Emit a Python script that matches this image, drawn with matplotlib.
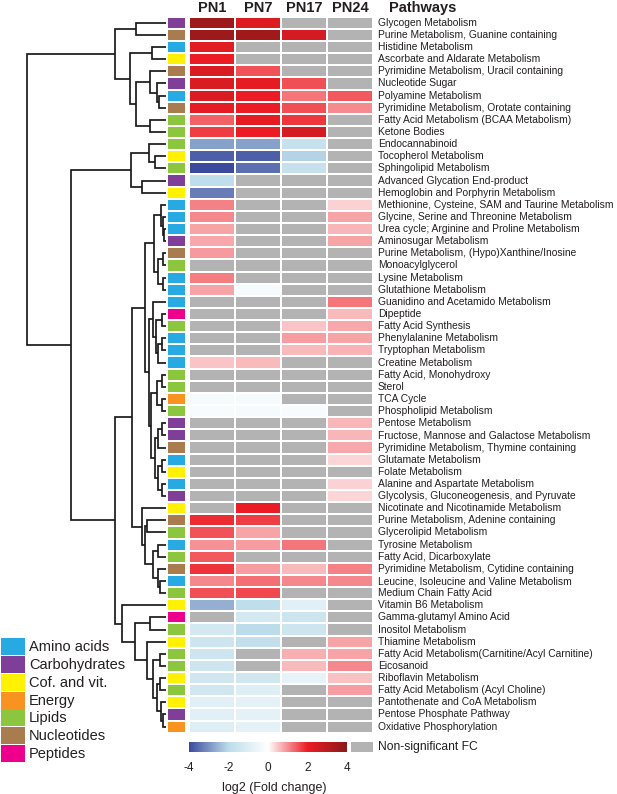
import numpy as np
import matplotlib
matplotlib.use("Agg")
import matplotlib.pyplot as plt
from matplotlib.colors import LinearSegmentedColormap, ListedColormap
from matplotlib.cm import ScalarMappable
from matplotlib.colors import Normalize

plt.rcParams['font.family'] = ['Liberation Sans', 'DejaVu Sans']

nan = np.nan

pathways = [
    "Glycogen Metabolism", "Purine Metabolism, Guanine containing", "Histidine Metabolism",
    "Ascorbate and Aldarate Metabolism", "Pyrimidine Metabolism, Uracil containing", "Nucleotide Sugar",
    "Polyamine Metabolism", "Pyrimidine Metabolism, Orotate containing", "Fatty Acid Metabolism (BCAA Metabolism)",
    "Ketone Bodies", "Endocannabinoid", "Tocopherol Metabolism", "Sphingolipid Metabolism",
    "Advanced Glycation End-product", "Hemoglobin and Porphyrin Metabolism",
    "Methionine, Cysteine, SAM and Taurine Metabolism", "Glycine, Serine and Threonine Metabolism",
    "Urea cycle; Arginine and Proline Metabolism", "Aminosugar Metabolism",
    "Purine Metabolism, (Hypo)Xanthine/Inosine", "Monoacylglycerol", "Lysine Metabolism",
    "Glutathione Metabolism", "Guanidino and Acetamido Metabolism", "Dipeptide", "Fatty Acid Synthesis",
    "Phenylalanine Metabolism", "Tryptophan Metabolism", "Creatine Metabolism", "Fatty Acid, Monohydroxy",
    "Sterol", "TCA Cycle", "Phospholipid Metabolism", "Pentose Metabolism",
    "Fructose, Mannose and Galactose Metabolism", "Pyrimidine Metabolism, Thymine containing",
    "Glutamate Metabolism", "Folate Metabolism", "Alanine and Aspartate Metabolism",
    "Glycolysis, Gluconeogenesis, and Pyruvate", "Nicotinate and Nicotinamide Metabolism",
    "Purine Metabolism, Adenine containing", "Glycerolipid Metabolism", "Tyrosine Metabolism",
    "Fatty Acid, Dicarboxylate", "Pyrimidine Metabolism, Cytidine containing",
    "Leucine, Isoleucine and Valine Metabolism", "Medium Chain Fatty Acid", "Vitamin B6 Metabolism",
    "Gamma-glutamyl Amino Acid", "Inositol Metabolism", "Thiamine Metabolism",
    "Fatty Acid Metabolism(Carnitine/Acyl Carnitine)", "Eicosanoid", "Riboflavin Metabolism",
    "Fatty Acid Metabolism (Acyl Choline)", "Pantothenate and CoA Metabolism",
    "Pentose Phosphate Pathway", "Oxidative Phosphorylation",
]

# AA amino acids, CH carbohydrates, CV cofactors/vitamins, EN energy, LI lipids, NU nucleotides, PE peptides
category = [
    "CH", "NU", "AA", "CV", "NU", "CH", "AA", "NU", "LI", "LI",
    "LI", "CV", "LI", "CH", "CV", "AA", "AA", "AA", "CH", "NU",
    "LI", "AA", "AA", "AA", "PE", "LI", "AA", "AA", "AA", "LI",
    "LI", "EN", "LI", "CH", "CH", "NU", "AA", "CV", "AA", "CH",
    "CV", "NU", "LI", "AA", "LI", "NU", "AA", "LI", "CV", "PE",
    "LI", "CV", "LI", "LI", "CV", "LI", "CV", "CH", "EN",
]

timepoints = ["PN1", "PN7", "PN17", "PN24"]

pn1 = [3.6, 3.65, 2.2, 2.0, 2.4, 2.4, 2.35, 2.15, 1.4, 1.7,
       -2.8, -3.7, -4.0, -1.9, -3.3, 1.1, 1.05, 0.8, 0.75, 0.9,
       nan, 1.15, 0.8, nan, nan, nan, nan, nan, 0.5, nan,
       nan, -0.3, -0.25, nan, nan, nan, nan, nan, nan, nan,
       nan, 1.85, 1.5, 0.95, 1.45, 1.8, 1.05, 1.55, -2.6, nan,
       -1.3, -1.5, -1.5, -1.45, -1.4, -1.4, -0.9, -0.9, -1.0]
pn7 = [2.3, 3.55, nan, nan, 1.5, 2.1, 2.0, 2.0, 2.1, 2.0,
       -2.8, -3.7, -3.5, nan, nan, nan, nan, nan, nan, nan,
       nan, nan, -0.3, nan, nan, nan, nan, nan, 0.6, nan,
       nan, -0.3, -0.3, nan, nan, nan, nan, nan, nan, nan,
       2.0, 1.7, 0.8, 0.85, nan, 0.85, 1.25, 1.6, -1.9, -1.3,
       -2.0, -1.8, nan, nan, -1.4, -1.0, -0.8, -0.8, -0.8]
pn17 = [nan, 2.5, nan, nan, nan, 1.55, 1.2, 1.55, 1.75, 2.5,
        -1.7, -2.1, -1.7, nan, nan, nan, nan, nan, nan, nan,
        nan, nan, nan, nan, nan, 0.5, 0.85, 0.62, nan, nan,
        nan, nan, -0.2, nan, nan, nan, nan, nan, nan, nan,
        nan, nan, nan, 1.2, nan, 0.62, 1.05, nan, -0.9, -1.5,
        -1.5, nan, 0.7, 0.6, -0.7, nan, nan, nan, nan]
pn24 = [nan, nan, nan, nan, nan, nan, 1.45, 1.0, nan, nan,
        nan, nan, nan, nan, nan, 0.4, 0.8, 0.65, 0.8, nan,
        nan, nan, nan, 1.2, 0.6, 0.75, 0.8, 0.67, nan, nan,
        nan, nan, nan, 0.65, 0.65, 0.75, 0.35, nan, 0.38, 0.35,
        nan, nan, nan, nan, nan, 1.1, 1.05, nan, nan, nan,
        nan, 0.8, 0.8, 1.05, 0.55, 0.85, nan, nan, nan]

class_keys = ["AA", "CH", "CV", "EN", "LI", "NU", "PE"]
class_names = ["Amino acids", "Carbohydrates", "Cof. and vit.", "Energy", "Lipids", "Nucleotides", "Peptides"]
class_colors = ["#27AAE1", "#7F3F98", "#FFF100", "#F7931E", "#8CC63F", "#A97C50", "#EC008C"]

# row clustering: (a, b, height); ids >= 59 refer to earlier merges (59 + index)
linkage = [
    (0, 1, 30), (2, 3, 14), (6, 7, 7), (5, 61, 9), (4, 62, 16),
    (8, 9, 16), (63, 64, 30), (60, 65, 36), (59, 66, 51),
    (11, 12, 11), (10, 68, 17), (13, 14, 24), (69, 70, 35),
    (17, 18, 2), (16, 72, 3), (15, 73, 5), (19, 20, 3), (21, 22, 3),
    (75, 76, 8), (74, 77, 12),
    (24, 25, 4), (26, 27, 4), (80, 28, 8), (79, 81, 10), (23, 82, 13),
    (29, 30, 4), (31, 32, 4), (84, 85, 9), (33, 34, 4), (87, 35, 8),
    (36, 37, 4), (38, 39, 4), (89, 90, 8), (88, 91, 11), (86, 92, 15),
    (83, 93, 17), (78, 94, 21),
    (41, 42, 19), (43, 44, 8), (46, 47, 6), (45, 98, 8), (97, 99, 13),
    (96, 100, 21), (40, 101, 24), (95, 102, 34),
    (49, 50, 16), (52, 53, 6), (54, 55, 6), (57, 58, 3), (56, 107, 5),
    (106, 108, 9), (105, 109, 13), (51, 110, 19), (104, 111, 31),
    (48, 112, 44), (103, 113, 51), (71, 114, 95), (67, 115, 139),
]

W, H = 617, 794
fig = plt.figure(figsize=(W / 100, H / 100), dpi=100)


def px_axes(x0, y0, x1, y1):
    return fig.add_axes([x0 / W, 1 - y1 / H, (x1 - x0) / W, (y1 - y0) / H])


n = len(pathways)
top, bottom = 16.7, 732.7
txt = '#231f20'

# heatmap
ax_h = px_axes(189, top, 373, bottom)
data = np.ma.masked_invalid(np.array([pn1, pn7, pn17, pn24]).T)
cmap = LinearSegmentedColormap.from_list(
    'fc', [(0, '#3B4A9E'), (0.25, '#BCDCEA'), (0.5, '#FFFFFF'), (0.75, '#EC1C24'), (1, '#8B1A1A')])
cmap.set_bad('#B3B3B3')
ax_h.pcolormesh(np.arange(5), np.arange(n + 1), data, cmap=cmap, vmin=-4, vmax=4,
                edgecolors='white', linewidth=1.2)
ax_h.set_xlim(0, 4)
ax_h.set_ylim(n, 0)
ax_h.axis('off')
for j, t in enumerate(timepoints):
    ax_h.text(j + 0.5, -0.75, t, ha='center', va='center', fontsize=10.5, fontweight='bold', color=txt)
ax_h.text(4.35, -0.75, "Pathways", ha='left', va='center', fontsize=10.5, fontweight='bold', color=txt)
for i, name in enumerate(pathways):
    ax_h.text(4.11, i + 0.5, name, ha='left', va='center', fontsize=7.35, color=txt, clip_on=False)

# category strip
ax_c = px_axes(167, top, 185.5, bottom)
codes = np.array([class_keys.index(c) for c in category]).reshape(-1, 1)
ax_c.pcolormesh(np.arange(2), np.arange(n + 1), codes, cmap=ListedColormap(class_colors),
                vmin=-0.5, vmax=len(class_keys) - 0.5, edgecolors='white', linewidth=1.2)
ax_c.set_xlim(0, 1)
ax_c.set_ylim(n, 0)
ax_c.axis('off')

# dendrogram
ax_d = px_axes(20, top, 166, bottom)
node_y = {i: i + 0.5 for i in range(n)}
node_h = {i: 0.0 for i in range(n)}
for k, (a, b, h) in enumerate(linkage):
    ax_d.plot([node_h[a], h, h, node_h[b]], [node_y[a], node_y[a], node_y[b], node_y[b]],
              color='#1a1a1a', lw=1.25, solid_capstyle='butt', solid_joinstyle='miter')
    node_y[n + k] = (node_y[a] + node_y[b]) / 2
    node_h[n + k] = h
ax_d.set_xlim(146, 0)
ax_d.set_ylim(n, 0)
ax_d.axis('off')

# colour bar
cax = px_axes(189, 742, 347, 752)
cb = fig.colorbar(ScalarMappable(norm=Normalize(-4, 4), cmap=cmap), cax=cax, orientation='horizontal')
cb.set_ticks([-4, -2, 0, 2, 4])
cb.set_ticklabels(["-4", "-2", "0", "2", "4"])
cb.outline.set_visible(False)
cax.tick_params(length=0, pad=7, labelsize=8.5, labelcolor=txt)
fig.text(274 / W, 1 - 788 / H, "log2 (Fold change)", ha='center', va='center', fontsize=9, color=txt)

ax_ns = px_axes(351, 742, 373, 752)
ax_ns.set_facecolor('#B3B3B3')
ax_ns.set_xticks([])
ax_ns.set_yticks([])
for s in ax_ns.spines.values():
    s.set_visible(False)
fig.text(378 / W, 1 - 747 / H, "Non-significant FC", ha='left', va='center', fontsize=8.7, color=txt)

# class legend
ax_l = px_axes(0, 630, 140, 770)
ax_l.set_xlim(0, 140)
ax_l.set_ylim(770, 630)
ax_l.axis('off')
for k, (name, col) in enumerate(zip(class_names, class_colors)):
    y0 = 638 + k * 17.85
    ax_l.add_patch(plt.Rectangle((1, y0), 24, 17, facecolor=col, edgecolor='none'))
    ax_l.text(29, y0 + 9, name, ha='left', va='center', fontsize=10.5, color=txt)

fig.savefig("out.png", dpi=100)
